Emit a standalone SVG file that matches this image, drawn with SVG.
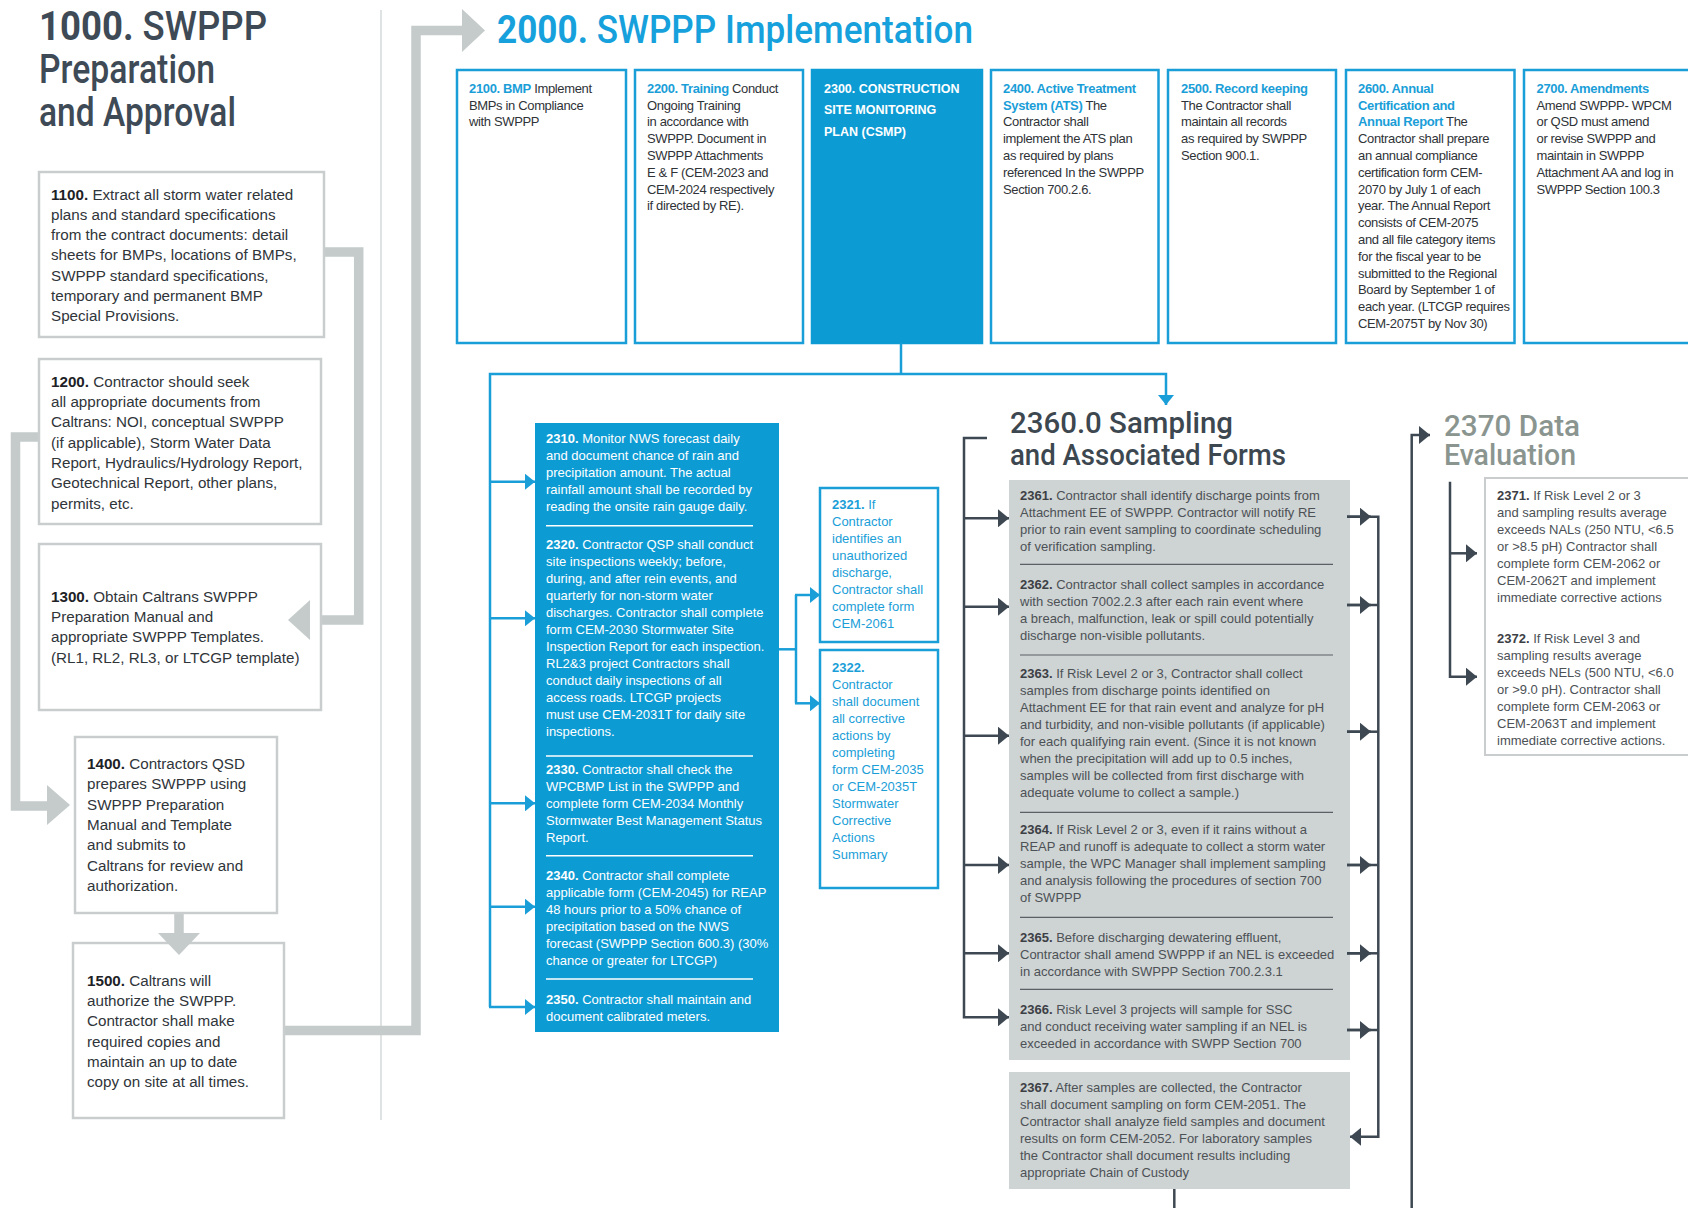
<svg xmlns="http://www.w3.org/2000/svg" width="1688" height="1208" viewBox="0 0 1688 1208">
<defs>
<style>
text{font-family:"Liberation Sans",Arial,sans-serif;}
.title{font-family:Roboto,"Liberation Sans",sans-serif;}
.lb{font-size:15.2px;fill:#30353a;}
.b{font-weight:bold;fill:#1e2226;}
.tb{font-size:13px;fill:#2f3337;letter-spacing:-0.35px;}
.bb{font-weight:bold;fill:#1a9ed8;}
.wt{font-size:13px;fill:#ffffff;}
.wb{font-weight:bold;}
.bt{font-size:13px;fill:#1a9ed8;}
.gt{font-size:13px;fill:#4c5156;}
.gb{font-weight:bold;fill:#3c4045;}
.gbox{fill:#ffffff;stroke:#c9cdcd;stroke-width:2.5;}
.tbox{fill:#ffffff;stroke:#1a9ed8;stroke-width:2.5;}
.gcon{fill:none;stroke:#c4cbca;stroke-width:9.5;stroke-linejoin:miter;}
.garr{fill:#c4cbca;}
.bcon{fill:none;stroke:#1a9ed8;stroke-width:2.5;}
.dcon{fill:none;stroke:#3d4852;stroke-width:2.5;}
.wsep{stroke:#ffffff;stroke-width:1.5;}
.dsep{stroke:#5a6066;stroke-width:1.2;}
</style>
<marker id="ab" markerUnits="userSpaceOnUse" markerWidth="10" markerHeight="16" refX="10" refY="8" orient="auto" viewBox="0 0 10 16"><path d="M0,0 L10,8 L0,16 Z" fill="#1a9ed8"/></marker>
<marker id="ad" markerUnits="userSpaceOnUse" markerWidth="11" markerHeight="18" refX="11" refY="9" orient="auto" viewBox="0 0 11 18"><path d="M0,0 L11,9 L0,18 Z" fill="#3d4852"/></marker>
</defs>
<rect width="1688" height="1208" fill="#ffffff"/>

<line x1="381" y1="10" x2="381" y2="1120" stroke="#d6dada" stroke-width="1.5"/>

<g id="title1000">
<text class="title" x="39" y="40" font-size="41" font-weight="500" textLength="228" lengthAdjust="spacingAndGlyphs" fill="#3e4a56"><tspan font-weight="bold">1000.</tspan> SWPPP</text>
<text class="title" x="39" y="83" font-size="41" font-weight="500" textLength="176" lengthAdjust="spacingAndGlyphs" fill="#3e4a56">Preparation</text>
<text class="title" x="39" y="126" font-size="41" font-weight="500" textLength="197" lengthAdjust="spacingAndGlyphs" fill="#3e4a56">and Approval</text>
</g>

<g id="connectors-gray">
<path class="gcon" d="M324,252 H358.7 V620 H309"/>
<path class="gcon" d="M39,437 H15.5 V806 H48"/>
<polygon class="garr" points="47,785 70,805 47,825"/>
<path class="gcon" d="M179,913 V934"/>
<path class="gcon" d="M284,1030.5 H416 V30.5 H463"/>
<polygon class="garr" points="462,9 485,30.5 462,52"/>
</g>

<g id="n1100">
<rect class="gbox" x="39" y="172" width="285" height="165"/>
<text class="lb" x="51" y="199.5"><tspan class="b">1100.</tspan> Extract all storm water related</text>
<text class="lb" x="51" y="219.8">plans and standard specifications</text>
<text class="lb" x="51" y="240.1">from the contract documents: detail</text>
<text class="lb" x="51" y="260.4">sheets for BMPs, locations of BMPs,</text>
<text class="lb" x="51" y="280.7">SWPPP standard specifications,</text>
<text class="lb" x="51" y="301">temporary and permanent BMP</text>
<text class="lb" x="51" y="321.3">Special Provisions.</text>
</g>

<g id="n1200">
<rect class="gbox" x="39" y="359" width="282" height="165"/>
<text class="lb" x="51" y="386.7"><tspan class="b">1200.</tspan> Contractor should seek</text>
<text class="lb" x="51" y="407">all appropriate documents from</text>
<text class="lb" x="51" y="427.3">Caltrans: NOI, conceptual SWPPP</text>
<text class="lb" x="51" y="447.6">(if applicable), Storm Water Data</text>
<text class="lb" x="51" y="467.9">Report, Hydraulics/Hydrology Report,</text>
<text class="lb" x="51" y="488.2">Geotechnical Report, other plans,</text>
<text class="lb" x="51" y="508.5">permits, etc.</text>
</g>

<g id="n1300">
<rect class="gbox" x="39" y="544" width="282" height="166"/>
<text class="lb" x="51" y="601.7"><tspan class="b">1300.</tspan> Obtain Caltrans SWPPP</text>
<text class="lb" x="51" y="622">Preparation Manual and</text>
<text class="lb" x="51" y="642.3">appropriate SWPPP Templates.</text>
<text class="lb" x="51" y="662.6">(RL1, RL2, RL3, or LTCGP template)</text>
</g>
<polygon class="garr" points="310,600 288,620 310,640"/>

<g id="n1400">
<rect class="gbox" x="75" y="737" width="202" height="176"/>
<text class="lb" x="87" y="769"><tspan class="b">1400.</tspan> Contractors QSD</text>
<text class="lb" x="87" y="789.3">prepares SWPPP using</text>
<text class="lb" x="87" y="809.6">SWPPP Preparation</text>
<text class="lb" x="87" y="829.9">Manual and Template</text>
<text class="lb" x="87" y="850.2">and submits to</text>
<text class="lb" x="87" y="870.5">Caltrans for review and</text>
<text class="lb" x="87" y="890.8">authorization.</text>
</g>

<g id="n1500">
<rect class="gbox" x="73" y="943" width="211" height="175"/>
<text class="lb" x="87" y="985.7"><tspan class="b">1500.</tspan> Caltrans will</text>
<text class="lb" x="87" y="1006">authorize the SWPPP.</text>
<text class="lb" x="87" y="1026.3">Contractor shall make</text>
<text class="lb" x="87" y="1046.6">required copies and</text>
<text class="lb" x="87" y="1066.9">maintain an up to date</text>
<text class="lb" x="87" y="1087.2">copy on site at all times.</text>
</g>
<polygon class="garr" points="158,933 179,955 200,933"/>

<g id="title2000">
<text class="title" x="497" y="43" font-size="39" font-weight="500" textLength="476" lengthAdjust="spacingAndGlyphs" fill="#17a1dc"><tspan font-weight="bold">2000.</tspan> SWPPP Implementation</text>
</g>

<g id="n2100">
<rect class="tbox" x="457" y="70" width="169" height="273"/>
<text class="tb" x="469" y="92.7"><tspan class="bb">2100. BMP</tspan> Implement</text>
<text class="tb" x="469" y="109.5">BMPs in Compliance</text>
<text class="tb" x="469" y="126.3">with SWPPP</text>
</g>

<g id="n2200">
<rect class="tbox" x="635" y="70" width="168" height="273"/>
<text class="tb" x="647" y="92.7"><tspan class="bb">2200. Training</tspan> Conduct</text>
<text class="tb" x="647" y="109.5">Ongoing Training</text>
<text class="tb" x="647" y="126.3">in accordance with</text>
<text class="tb" x="647" y="143.1">SWPPP. Document in</text>
<text class="tb" x="647" y="159.9">SWPPP Attachments</text>
<text class="tb" x="647" y="176.7">E &amp; F (CEM-2023 and</text>
<text class="tb" x="647" y="193.5">CEM-2024 respectively</text>
<text class="tb" x="647" y="210.3">if directed by RE).</text>
</g>

<g id="n2300">
<rect x="812" y="70" width="170" height="273" fill="#0d9bd4" stroke="#0d9bd4" stroke-width="2.5"/>
<text x="824" y="92.5" font-size="12.5" font-weight="bold" fill="#ffffff">2300.  CONSTRUCTION</text>
<text x="824" y="114" font-size="12.5" font-weight="bold" fill="#ffffff">SITE MONITORING</text>
<text x="824" y="135.5" font-size="12.5" font-weight="bold" fill="#ffffff">PLAN (CSMP)</text>
</g>

<g id="n2400">
<rect class="tbox" x="991" y="70" width="167.5" height="273"/>
<text class="tb" x="1003" y="92.7"><tspan class="bb">2400. Active Treatment</tspan></text>
<text class="tb" x="1003" y="109.5"><tspan class="bb">System (ATS)</tspan> The</text>
<text class="tb" x="1003" y="126.3">Contractor shall</text>
<text class="tb" x="1003" y="143.1">implement the ATS plan</text>
<text class="tb" x="1003" y="159.9">as required by plans</text>
<text class="tb" x="1003" y="176.7">referenced In the SWPPP</text>
<text class="tb" x="1003" y="193.5">Section 700.2.6.</text>
</g>

<g id="n2500">
<rect class="tbox" x="1168" y="70" width="168" height="273"/>
<text class="tb" x="1181" y="92.7"><tspan class="bb">2500.  Record keeping</tspan></text>
<text class="tb" x="1181" y="109.5">The Contractor shall</text>
<text class="tb" x="1181" y="126.3">maintain all records</text>
<text class="tb" x="1181" y="143.1">as required by SWPPP</text>
<text class="tb" x="1181" y="159.9">Section 900.1.</text>
</g>

<g id="n2600">
<rect class="tbox" x="1346" y="70" width="168.5" height="273"/>
<text class="tb" x="1358" y="92.7"><tspan class="bb">2600. Annual</tspan></text>
<text class="tb" x="1358" y="109.5"><tspan class="bb">Certification and</tspan></text>
<text class="tb" x="1358" y="126.3"><tspan class="bb">Annual Report</tspan> The</text>
<text class="tb" x="1358" y="143.1">Contractor shall prepare</text>
<text class="tb" x="1358" y="159.9">an annual compliance</text>
<text class="tb" x="1358" y="176.7">certification form CEM-</text>
<text class="tb" x="1358" y="193.5">2070 by July 1 of each</text>
<text class="tb" x="1358" y="210.3">year. The Annual Report</text>
<text class="tb" x="1358" y="227.1">consists of CEM-2075</text>
<text class="tb" x="1358" y="243.9">and all file category items</text>
<text class="tb" x="1358" y="260.7">for the fiscal year to be</text>
<text class="tb" x="1358" y="277.5">submitted to the Regional</text>
<text class="tb" x="1358" y="294.3">Board by September 1 of</text>
<text class="tb" x="1358" y="311.1">each year. (LTCGP requires</text>
<text class="tb" x="1358" y="327.9">CEM-2075T by Nov 30)</text>
</g>

<g id="n2700">
<rect class="tbox" x="1524" y="70" width="180" height="273"/>
<text class="tb" x="1536.5" y="92.7"><tspan class="bb">2700. Amendments</tspan></text>
<text class="tb" x="1536.5" y="109.5">Amend SWPPP- WPCM</text>
<text class="tb" x="1536.5" y="126.3">or QSD must amend</text>
<text class="tb" x="1536.5" y="143.1">or revise SWPPP and</text>
<text class="tb" x="1536.5" y="159.9">maintain in SWPPP</text>
<text class="tb" x="1536.5" y="176.7">Attachment AA and log in</text>
<text class="tb" x="1536.5" y="193.5">SWPPP Section 100.3</text>
</g>

<g id="n2310-2350">
<rect x="535" y="423" width="244" height="609" fill="#0d9bd4"/>
<text class="wt" x="546" y="443.3"><tspan class="wb">2310.</tspan>  Monitor NWS forecast daily</text>
<text class="wt" x="546" y="460.3">and document chance of rain and</text>
<text class="wt" x="546" y="477.3">precipitation amount. The actual</text>
<text class="wt" x="546" y="494.3">rainfall amount shall be recorded by</text>
<text class="wt" x="546" y="511.3">reading the onsite rain gauge daily.</text>
<line class="wsep" x1="546" y1="525.7" x2="753" y2="525.7"/>
<text class="wt" x="546" y="549.3"><tspan class="wb">2320.</tspan>  Contractor QSP shall conduct</text>
<text class="wt" x="546" y="566.3">site inspections weekly; before,</text>
<text class="wt" x="546" y="583.3">during, and after rein events, and</text>
<text class="wt" x="546" y="600.3">quarterly for non-storm water</text>
<text class="wt" x="546" y="617.3">discharges. Contractor shall complete</text>
<text class="wt" x="546" y="634.3">form CEM-2030 Stormwater Site</text>
<text class="wt" x="546" y="651.3">Inspection Report for each inspection.</text>
<text class="wt" x="546" y="668.3">RL2&amp;3 project Contractors shall</text>
<text class="wt" x="546" y="685.3">conduct daily inspections of all</text>
<text class="wt" x="546" y="702.3">access roads. LTCGP projects</text>
<text class="wt" x="546" y="719.3">must use CEM-2031T for daily site</text>
<text class="wt" x="546" y="736.3">inspections.</text>
<line class="wsep" x1="546" y1="756" x2="753" y2="756"/>
<text class="wt" x="546" y="774"><tspan class="wb">2330.</tspan>  Contractor shall check the</text>
<text class="wt" x="546" y="791">WPCBMP List in the SWPPP and</text>
<text class="wt" x="546" y="808">complete form CEM-2034 Monthly</text>
<text class="wt" x="546" y="825">Stormwater Best Management Status</text>
<text class="wt" x="546" y="842">Report.</text>
<line class="wsep" x1="546" y1="855.7" x2="753" y2="855.7"/>
<text class="wt" x="546" y="880"><tspan class="wb">2340.</tspan>  Contractor shall complete</text>
<text class="wt" x="546" y="897">applicable form (CEM-2045) for REAP</text>
<text class="wt" x="546" y="914">48 hours prior to a 50% chance of</text>
<text class="wt" x="546" y="931">precipitation based on the NWS</text>
<text class="wt" x="546" y="948">forecast (SWPPP Section 600.3) (30%</text>
<text class="wt" x="546" y="965">chance or greater for LTCGP)</text>
<line class="wsep" x1="546" y1="979" x2="753" y2="979"/>
<text class="wt" x="546" y="1004"><tspan class="wb">2350.</tspan>  Contractor shall maintain and</text>
<text class="wt" x="546" y="1021">document calibrated meters.</text>
</g>

<g id="n2321">
<rect class="tbox" x="820" y="488" width="118" height="154"/>
<text class="bt" x="832" y="509.3"><tspan font-weight="bold">2321.</tspan>  If</text>
<text class="bt" x="832" y="526.3">Contractor</text>
<text class="bt" x="832" y="543.3">identifies an</text>
<text class="bt" x="832" y="560.3">unauthorized</text>
<text class="bt" x="832" y="577.3">discharge,</text>
<text class="bt" x="832" y="594.3">Contractor shall</text>
<text class="bt" x="832" y="611.3">complete form</text>
<text class="bt" x="832" y="628.3">CEM-2061</text>
</g>

<g id="n2322">
<rect class="tbox" x="820" y="650" width="118" height="238"/>
<text class="bt" x="832" y="671.7"><tspan font-weight="bold">2322.</tspan></text>
<text class="bt" x="832" y="688.7">Contractor</text>
<text class="bt" x="832" y="705.7">shall document</text>
<text class="bt" x="832" y="722.7">all corrective</text>
<text class="bt" x="832" y="739.7">actions by</text>
<text class="bt" x="832" y="756.7">completing</text>
<text class="bt" x="832" y="773.7">form CEM-2035</text>
<text class="bt" x="832" y="790.7">or CEM-2035T</text>
<text class="bt" x="832" y="807.7">Stormwater</text>
<text class="bt" x="832" y="824.7">Corrective</text>
<text class="bt" x="832" y="841.7">Actions</text>
<text class="bt" x="832" y="858.7">Summary</text>
</g>

<g id="title2360">
<text class="title" x="1010" y="433" font-size="30" font-weight="500" textLength="223" lengthAdjust="spacingAndGlyphs" fill="#3d4750">2360.0 Sampling</text>
<text class="title" x="1010" y="465" font-size="30" font-weight="500" textLength="276" lengthAdjust="spacingAndGlyphs" fill="#3d4750">and Associated Forms</text>
</g>

<g id="n2361-2366">
<rect x="1009" y="480" width="341" height="580" fill="#ced3d3"/>
<text class="gt" x="1020" y="500"><tspan class="gb">2361.</tspan>  Contractor shall identify discharge points from</text>
<text class="gt" x="1020" y="517">Attachment EE of SWPPP. Contractor will notify RE</text>
<text class="gt" x="1020" y="534">prior to rain event sampling to coordinate scheduling</text>
<text class="gt" x="1020" y="551">of verification sampling.</text>
<line class="dsep" x1="1020" y1="564.3" x2="1333" y2="564.3"/>
<text class="gt" x="1020" y="589.3"><tspan class="gb">2362.</tspan>  Contractor shall collect samples in accordance</text>
<text class="gt" x="1020" y="606.3">with section 7002.2.3 after each rain event where</text>
<text class="gt" x="1020" y="623.3">a breach, malfunction, leak or spill could potentially</text>
<text class="gt" x="1020" y="640.3">discharge non-visible pollutants.</text>
<line class="dsep" x1="1020" y1="655" x2="1333" y2="655"/>
<text class="gt" x="1020" y="678.3"><tspan class="gb">2363.</tspan>  If Risk Level 2 or 3, Contractor shall collect</text>
<text class="gt" x="1020" y="695.3">samples from discharge points identified on</text>
<text class="gt" x="1020" y="712.3">Attachment EE for that rain event and analyze for pH</text>
<text class="gt" x="1020" y="729.3">and turbidity, and non-visible pollutants (if applicable)</text>
<text class="gt" x="1020" y="746.3">for each qualifying rain event. (Since it is not known</text>
<text class="gt" x="1020" y="763.3">when the precipitation will add up to 0.5 inches,</text>
<text class="gt" x="1020" y="780.3">samples will be collected from first discharge with</text>
<text class="gt" x="1020" y="797.3">adequate volume to collect a sample.)</text>
<line class="dsep" x1="1020" y1="812.3" x2="1333" y2="812.3"/>
<text class="gt" x="1020" y="834.3"><tspan class="gb">2364.</tspan>  If Risk Level 2 or 3, even if it rains without a</text>
<text class="gt" x="1020" y="851.3">REAP and runoff is adequate to collect a storm water</text>
<text class="gt" x="1020" y="868.3">sample, the WPC Manager shall implement sampling</text>
<text class="gt" x="1020" y="885.3">and analysis following the procedures of section 700</text>
<text class="gt" x="1020" y="902.3">of SWPPP</text>
<line class="dsep" x1="1020" y1="917.3" x2="1333" y2="917.3"/>
<text class="gt" x="1020" y="941.7"><tspan class="gb">2365.</tspan>  Before discharging dewatering effluent,</text>
<text class="gt" x="1020" y="958.7">Contractor shall amend SWPPP if an NEL is exceeded</text>
<text class="gt" x="1020" y="975.7">in accordance with SWPPP Section 700.2.3.1</text>
<line class="dsep" x1="1020" y1="989.3" x2="1333" y2="989.3"/>
<text class="gt" x="1020" y="1014"><tspan class="gb">2366.</tspan>  Risk Level 3 projects will sample for SSC</text>
<text class="gt" x="1020" y="1031">and conduct receiving water sampling if an NEL is</text>
<text class="gt" x="1020" y="1048">exceeded in accordance with SWPP Section 700</text>
</g>

<g id="n2367">
<rect x="1009" y="1072" width="341" height="117" fill="#ced3d3"/>
<text class="gt" x="1020" y="1091.7"><tspan class="gb">2367.</tspan>  After samples are collected, the Contractor</text>
<text class="gt" x="1020" y="1108.7">shall document sampling on form CEM-2051. The</text>
<text class="gt" x="1020" y="1125.7">Contractor shall analyze field samples and document</text>
<text class="gt" x="1020" y="1142.7">results on form CEM-2052. For laboratory samples</text>
<text class="gt" x="1020" y="1159.7">the Contractor shall document results including</text>
<text class="gt" x="1020" y="1176.7">appropriate Chain of Custody</text>
</g>

<g id="title2370">
<text class="title" x="1444" y="436" font-size="30" font-weight="500" textLength="136" lengthAdjust="spacingAndGlyphs" fill="#8b9590">2370 Data</text>
<text class="title" x="1444" y="465" font-size="30" font-weight="500" textLength="132" lengthAdjust="spacingAndGlyphs" fill="#8b9590">Evaluation</text>
</g>

<g id="n2371-2372">
<rect x="1485" y="478" width="215" height="277" fill="#ffffff" stroke="#c9cdcd" stroke-width="2"/>
<text class="gt" x="1497" y="500"><tspan class="gb">2371.</tspan>  If Risk Level 2 or 3</text>
<text class="gt" x="1497" y="517">and sampling results average</text>
<text class="gt" x="1497" y="534">exceeds NALs (250 NTU, &lt;6.5</text>
<text class="gt" x="1497" y="551">or &gt;8.5 pH) Contractor shall</text>
<text class="gt" x="1497" y="568">complete form CEM-2062 or</text>
<text class="gt" x="1497" y="585">CEM-2062T and implement</text>
<text class="gt" x="1497" y="602">immediate corrective actions</text>
<text class="gt" x="1497" y="643.3"><tspan class="gb">2372.</tspan>  If Risk Level 3 and</text>
<text class="gt" x="1497" y="660.3">sampling results average</text>
<text class="gt" x="1497" y="677.3">exceeds NELs (500 NTU, &lt;6.0</text>
<text class="gt" x="1497" y="694.3">or &gt;9.0 pH). Contractor shall</text>
<text class="gt" x="1497" y="711.3">complete form CEM-2063 or</text>
<text class="gt" x="1497" y="728.3">CEM-2063T and implement</text>
<text class="gt" x="1497" y="745.3">immediate corrective actions.</text>
</g>

<g id="connectors">
<path class="bcon" d="M901,343 V374"/>
<path class="bcon" d="M490,1007 V374 H1166 V405" marker-end="url(#ab)"/>
<path class="bcon" d="M490,481.7 H535" marker-end="url(#ab)"/>
<path class="bcon" d="M490,618.3 H535" marker-end="url(#ab)"/>
<path class="bcon" d="M490,803.3 H535" marker-end="url(#ab)"/>
<path class="bcon" d="M490,906.7 H535" marker-end="url(#ab)"/>
<path class="bcon" d="M489,1007 H535" marker-end="url(#ab)"/>
<path class="bcon" d="M779,649.3 H796"/>
<path class="bcon" d="M796,595 V703.3"/>
<path class="bcon" d="M795,595 H820" marker-end="url(#ab)"/>
<path class="bcon" d="M795,703.3 H820" marker-end="url(#ab)"/>

<path class="dcon" d="M987,438 H964 V1017.3 H1009" marker-end="url(#ad)"/>
<path class="dcon" d="M964,518.3 H1009" marker-end="url(#ad)"/>
<path class="dcon" d="M964,606.7 H1009" marker-end="url(#ad)"/>
<path class="dcon" d="M964,735.7 H1009" marker-end="url(#ad)"/>
<path class="dcon" d="M964,865 H1009" marker-end="url(#ad)"/>
<path class="dcon" d="M964,953.3 H1009" marker-end="url(#ad)"/>

<path class="dcon" d="M1347,516.7 H1378.3 V1136.7 H1350" marker-end="url(#ad)"/>
<path class="dcon" d="M1347,605 H1378"/>
<path class="dcon" d="M1347,731.7 H1378"/>
<path class="dcon" d="M1347,865 H1378"/>
<path class="dcon" d="M1347,953.3 H1378"/>
<path class="dcon" d="M1347,1030 H1378"/>
<path class="dcon" d="M1347,516.7 H1371" marker-end="url(#ad)"/>
<path class="dcon" d="M1347,605 H1371" marker-end="url(#ad)"/>
<path class="dcon" d="M1347,731.7 H1371" marker-end="url(#ad)"/>
<path class="dcon" d="M1347,865 H1371" marker-end="url(#ad)"/>
<path class="dcon" d="M1347,953.3 H1371" marker-end="url(#ad)"/>
<path class="dcon" d="M1347,1030 H1371" marker-end="url(#ad)"/>

<path class="dcon" d="M1174.3,1189 V1208"/>
<path class="dcon" d="M1411.7,1208 V435 H1430" marker-end="url(#ad)"/>
<path class="dcon" d="M1450,481.7 V676.7 H1477" marker-end="url(#ad)"/>
<path class="dcon" d="M1450,553.3 H1477" marker-end="url(#ad)"/>
</g>
</svg>
